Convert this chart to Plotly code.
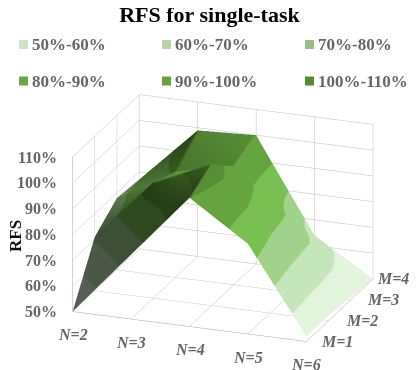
import plotly.graph_objects as go

n_values = [2, 3, 4, 5, 6]
m_values = [1, 2, 3, 4]
n_labels = ["N=2", "N=3", "N=4", "N=5", "N=6"]
m_labels = ["M=1", "M=2", "M=3", "M=4"]
z_ticks = [50, 60, 70, 80, 90, 100, 110]
z_labels = ["50%", "60%", "70%", "80%", "90%", "100%", "110%"]
rfs_m1 = [50, 75, 100, 85, 52]
rfs_m2 = [71, 95, 105, 80, 52]
rfs_m3 = [78, 91, 96, 78, 51]
rfs_m4 = [77, 99, 100, 64, 50]
band_names = ["50%-60%", "60%-70%", "70%-80%", "80%-90%", "90%-100%", "100%-110%"]
band_colors = ["#e2f5dc", "#c5e5ba", "#a0d28c", "#7abf52", "#65a43e", "#568f35"]
legend_colors = ["#cfe2c8", "#b6d4a9", "#98c084", "#6ba845", "#68a13f", "#558c33"]

cs = []
for i, c in enumerate(band_colors):
    cs += [[i / 6, c], [(i + 1) / 6, c]]

GREY = "#666666"
fig = go.Figure()
fig.add_trace(go.Surface(
    x=n_values, y=m_values, z=[rfs_m1, rfs_m2, rfs_m3, rfs_m4],
    colorscale=cs, cmin=50, cmax=110, showscale=False, showlegend=False,
    lighting=dict(ambient=0.38, diffuse=0.85, specular=0.0, roughness=0.5, fresnel=0),
    lightposition=dict(x=100000, y=90000, z=0),
    hoverinfo="skip",
))

axis_common = dict(
    showbackground=False, showline=True, linecolor="#a6a6a6", gridcolor="#bdbdbd",
    gridwidth=1, zeroline=False, ticks="", title=dict(text=""),
    showspikes=False, showticklabels=False,
)
label_font = dict(family="Liberation Serif", size=16, color=GREY, weight="bold")
italic_font = dict(label_font, style="italic")
m_shifts = [31, 33, 32, 20]
annotations = []
for n, t in zip(n_values, n_labels):
    annotations.append(dict(x=n, y=1, z=50, text=t, showarrow=False, font=italic_font, xshift=0, yshift=-23))
for m, t, s in zip(m_values, m_labels, m_shifts):
    annotations.append(dict(x=6, y=m, z=50, text=t, showarrow=False, font=italic_font, xshift=s, yshift=0))
for v, t in zip(z_ticks, z_labels):
    annotations.append(dict(x=2, y=1, z=v, text=t, showarrow=False, font=label_font, xanchor="right", xshift=-14))

shapes = []
page_annotations = []
for i, (name, color) in enumerate(zip(band_names, legend_colors)):
    col, row = i % 3, i // 3
    x0 = 11 + col * 143
    y0 = 32 + row * 36.5
    shapes.append(dict(type="rect", xref="paper", yref="paper", x0=x0 / 417, x1=(x0 + 9) / 417,
                       y0=1 - (y0 + 9) / 370, y1=1 - y0 / 370, fillcolor=color, line=dict(width=0)))
    page_annotations.append(dict(xref="paper", yref="paper", x=(x0 + 13) / 417, y=1 - (y0 + 4.5) / 370,
                                 xanchor="left", yanchor="middle", text=name, showarrow=False, xshift=-2,
                                 font=dict(label_font, size=17)))
page_annotations.append(dict(xref="paper", yref="paper", x=7 / 417, y=1 - 228 / 370, text="RFS", textangle=-90,
                             xanchor="center", yanchor="middle", showarrow=False,
                             font=dict(family="Liberation Serif", size=17, color="#111111", weight="bold")))

fig.update_layout(
    width=417, height=370, margin=dict(l=0, r=0, t=0, b=0),
    paper_bgcolor="white", showlegend=False,
    title=dict(text="<b>RFS for single-task</b>", x=0.4832, xanchor="center", y=1 - 6 / 370, yanchor="middle",
               font=dict(family="Liberation Serif", size=22, color="black")),
    shapes=shapes, annotations=page_annotations,
    scene=dict(
        domain=dict(x=[0, 1], y=[0, 1]),
        aspectmode="manual", aspectratio=dict(x=1.347, y=1.041, z=0.89),
        camera=dict(projection=dict(type="orthographic"),
                    center=dict(x=-0.047, y=0.029, z=0.128),
                    eye=dict(x=0.26, y=-0.804, z=0.456), up=dict(x=0, y=0, z=1)),
        xaxis=dict(axis_common, range=[2, 6], tickvals=n_values),
        yaxis=dict(axis_common, range=[1, 4], tickvals=m_values),
        zaxis=dict(axis_common, range=[50, 110], tickvals=z_ticks),
        annotations=annotations,
    ),
)
fig.write_html("out.html")
